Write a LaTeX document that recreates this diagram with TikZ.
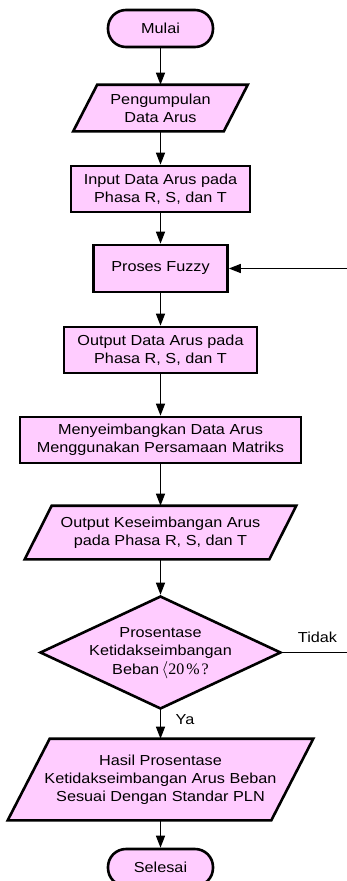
\documentclass[tikz,border=0pt]{standalone}
\usepackage{fontspec}
\setmainfont{Liberation Sans}[FakeStretch=1.12]
\newfontfamily\serifnum{Liberation Serif}
\usetikzlibrary{arrows.meta,backgrounds,shapes.geometric}
\definecolor{boxfill}{RGB}{255,204,255}

\tikzset{
  every node/.style={font=\fontsize{14.5}{18}\selectfont, align=center, inner sep=0pt},
  block/.style={draw, line width=2.6pt, fill=boxfill, minimum height=46pt},
  term/.style={draw, line width=2.6pt, fill=boxfill, rounded corners=18pt,
               minimum width=105pt, minimum height=37pt},
  iotext/.style={outer sep=1.3pt},
  outline/.style={draw, line width=2.6pt, fill=boxfill, line join=miter},
  decision/.style={diamond, draw, line width=2.6pt, fill=boxfill,
                   minimum width=241pt, minimum height=113pt, outer sep=1.3pt},
  flow/.style={line width=1.3pt, -{Triangle[length=12pt,width=9pt]}},
  plainline/.style={line width=1.3pt},
}

% input/output parallelogram drawn behind a text node
\newcommand\ioframe[2]{% node name, half of the horizontal slant
  \begin{scope}[on background layer]
    \draw[outline] ([xshift=#2pt]#1.north west) -- ([xshift=#2pt]#1.north east)
      -- ([xshift=-#2pt]#1.south east) -- ([xshift=-#2pt]#1.south west) -- cycle;
  \end{scope}}

\begin{document}
\begin{tikzpicture}[x=1pt,y=-1pt]
\useasboundingbox (0,0) rectangle (347,881);

\node[term] (mulai) at (160.5,28.5) {Mulai};

\node[iotext, minimum width=148pt, minimum height=44pt] (p1) at (160.5,108)
  {Pengumpulan\\Data Arus};
\ioframe{p1}{12}

\node[block, minimum width=179pt] (input) at (160.5,189)
  {Input Data Arus pada\\Phasa R, S, dan T};

\node[block, minimum width=134pt, minimum height=47pt] (fuzzy) at (160.5,268.5)
  {Proses Fuzzy};

\node[block, minimum width=193pt] (output) at (160.5,350)
  {Output Data Arus pada\\Phasa R, S, dan T};

\node[block, minimum width=281pt] (balance) at (160.5,440)
  {Menyeimbangkan Data Arus\\Menggunakan Persamaan Matriks};

\node[iotext, minimum width=242pt, minimum height=51pt] (p2) at (160.5,532.5)
  {Output Keseimbangan Arus\\pada Phasa R, S, dan T};
\ioframe{p2}{13.5}

\node[decision] (dec) at (160.5,652.5) {};
\node (dectext) at (160.5,653)
  {Prosentase\\Ketidakseimbangan\\[1pt]Beban\,{\serifnum\fontsize{16}{18}\selectfont
   $\langle$20\hspace{2pt}\%\hspace{2pt}?}};

\node[iotext, minimum width=261pt, minimum height=79pt] (p3) at (160.5,779.5)
  {Hasil Prosentase\\Ketidakseimbangan Arus Beban\\Sesuai Dengan Standar PLN};
\ioframe{p3}{21}

\node[term] (selesai) at (160.5,867.5) {Selesai};

% main flow
\draw[flow] (mulai) -- (p1);
\draw[flow] (p1) -- (input);
\draw[flow] (input) -- (fuzzy);
\draw[flow] (fuzzy) -- (output);
\draw[flow] (output) -- (balance);
\draw[flow] (balance) -- (p2);
\draw[flow] (p2) -- (dec);
\draw[flow] (dec) -- (p3);
\draw[flow] (p3) -- (selesai);

% return branch
\coordinate (loopin) at (347,268.5);
\draw[flow] (loopin) -- (fuzzy);
\coordinate (loopout) at (347,652.5);
\draw[plainline] (dec.east) -- (loopout);

\node (tidak) at (317.5,637.5) {Tidak};
\node (ya) at (185,720) {Ya};
\end{tikzpicture}
\end{document}
